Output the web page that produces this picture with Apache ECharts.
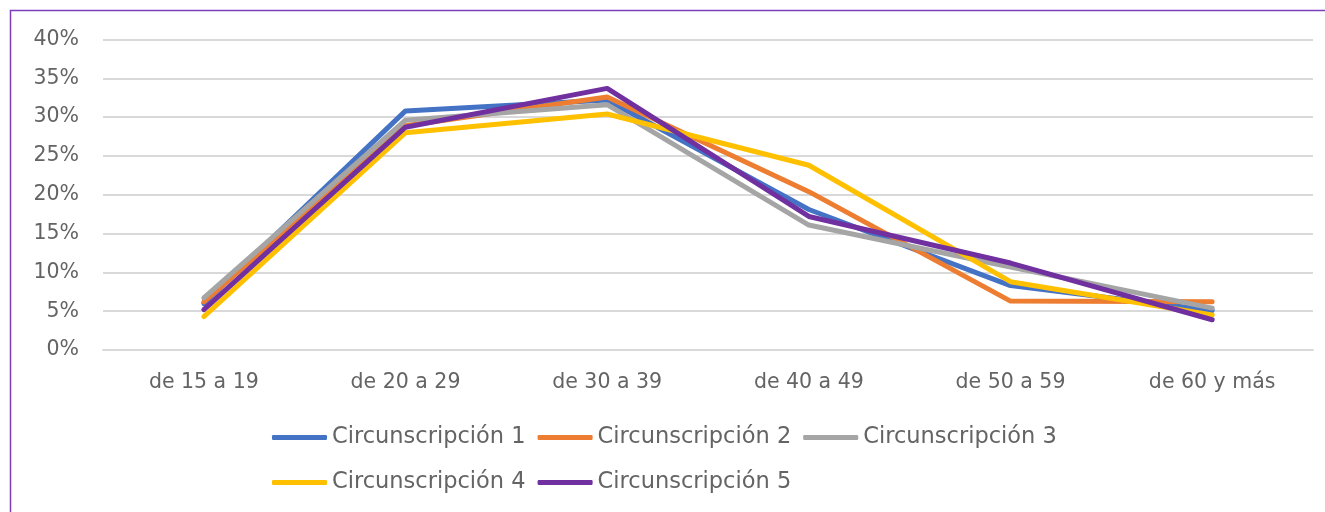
<!DOCTYPE html>
<html>
<head>
<meta charset="utf-8">
<script src="https://cdn.jsdelivr.net/npm/echarts@6/dist/echarts.min.js"></script>
<style>
  html, body { margin: 0; padding: 0; background: #fff; }
  #chart { width: 1325px; height: 512px; }
</style>
</head>
<body>
<div id="chart"></div>
<script>
const categories = ['de 15 a 19', 'de 20 a 29', 'de 30 a 39', 'de 40 a 49', 'de 50 a 59', 'de 60 y más']
const yTicks = [0, 5, 10, 15, 20, 25, 30, 35, 40]

const circ1 = [6.0, 30.8, 32.2, 18.1, 8.3, 5.1]
const circ2 = [6.2, 28.9, 32.6, 20.4, 6.3, 6.2]
const circ3 = [6.7, 29.6, 31.6, 16.1, 10.7, 5.4]
const circ4 = [4.3, 28.0, 30.4, 23.8, 8.8, 4.5]
const circ5 = [5.2, 28.7, 33.7, 17.2, 11.2, 3.9]

const seriesNames = ['Circunscripción 1', 'Circunscripción 2', 'Circunscripción 3', 'Circunscripción 4', 'Circunscripción 5']
const seriesData = [circ1, circ2, circ3, circ4, circ5]
const colors = ['#4472c4', '#ed7d31', '#a5a5a5', '#ffc000', '#7030a0']

const font = 'DejaVu Sans'
const textColor = '#646464'

const chart = echarts.init(document.getElementById('chart'))

// two legends so the rows sit 45px apart like the original
const legendBase = {
  icon: 'roundRect',
  itemWidth: 55,
  itemHeight: 5,
  itemGap: 12,
  padding: 0,
  left: 272,
  textStyle: { fontFamily: font, fontSize: 22.5, color: textColor }
}

chart.setOption({
  animation: false,
  color: colors,
  graphic: [{
    type: 'rect',
    shape: { x: 10.5, y: 10.5, width: 1330, height: 520 },
    style: { fill: 'none', stroke: '#7b3fbb', lineWidth: 1.5 },
    silent: true
  }],
  grid: { left: 103, right: 12, top: 39.5, bottom: 162 },
  legend: [
    Object.assign({}, legendBase, { top: 426, data: seriesNames.slice(0, 3) }),
    Object.assign({}, legendBase, { top: 471, data: seriesNames.slice(3) })
  ],
  xAxis: {
    type: 'category',
    data: categories,
    boundaryGap: true,
    axisLine: { show: true, lineStyle: { color: '#d9d9d9', width: 2 } },
    axisTick: { show: false },
    axisLabel: { fontFamily: font, fontSize: 20.5, color: textColor, margin: 22 }
  },
  yAxis: {
    type: 'value',
    min: 0,
    max: yTicks[yTicks.length - 1],
    interval: 5,
    axisLine: { show: false },
    axisTick: { show: false },
    splitLine: { lineStyle: { color: '#d9d9d9', width: 2 } },
    axisLabel: { fontFamily: font, fontSize: 20.5, color: textColor, margin: 24, formatter: '{value}%' }
  },
  series: seriesNames.map((name, i) => ({
    name: name,
    type: 'line',
    data: seriesData[i],
    symbol: 'none',
    lineStyle: { width: 5, color: colors[i], cap: 'round', join: 'round' },
    itemStyle: { color: colors[i] }
  }))
})
</script>
</body>
</html>
